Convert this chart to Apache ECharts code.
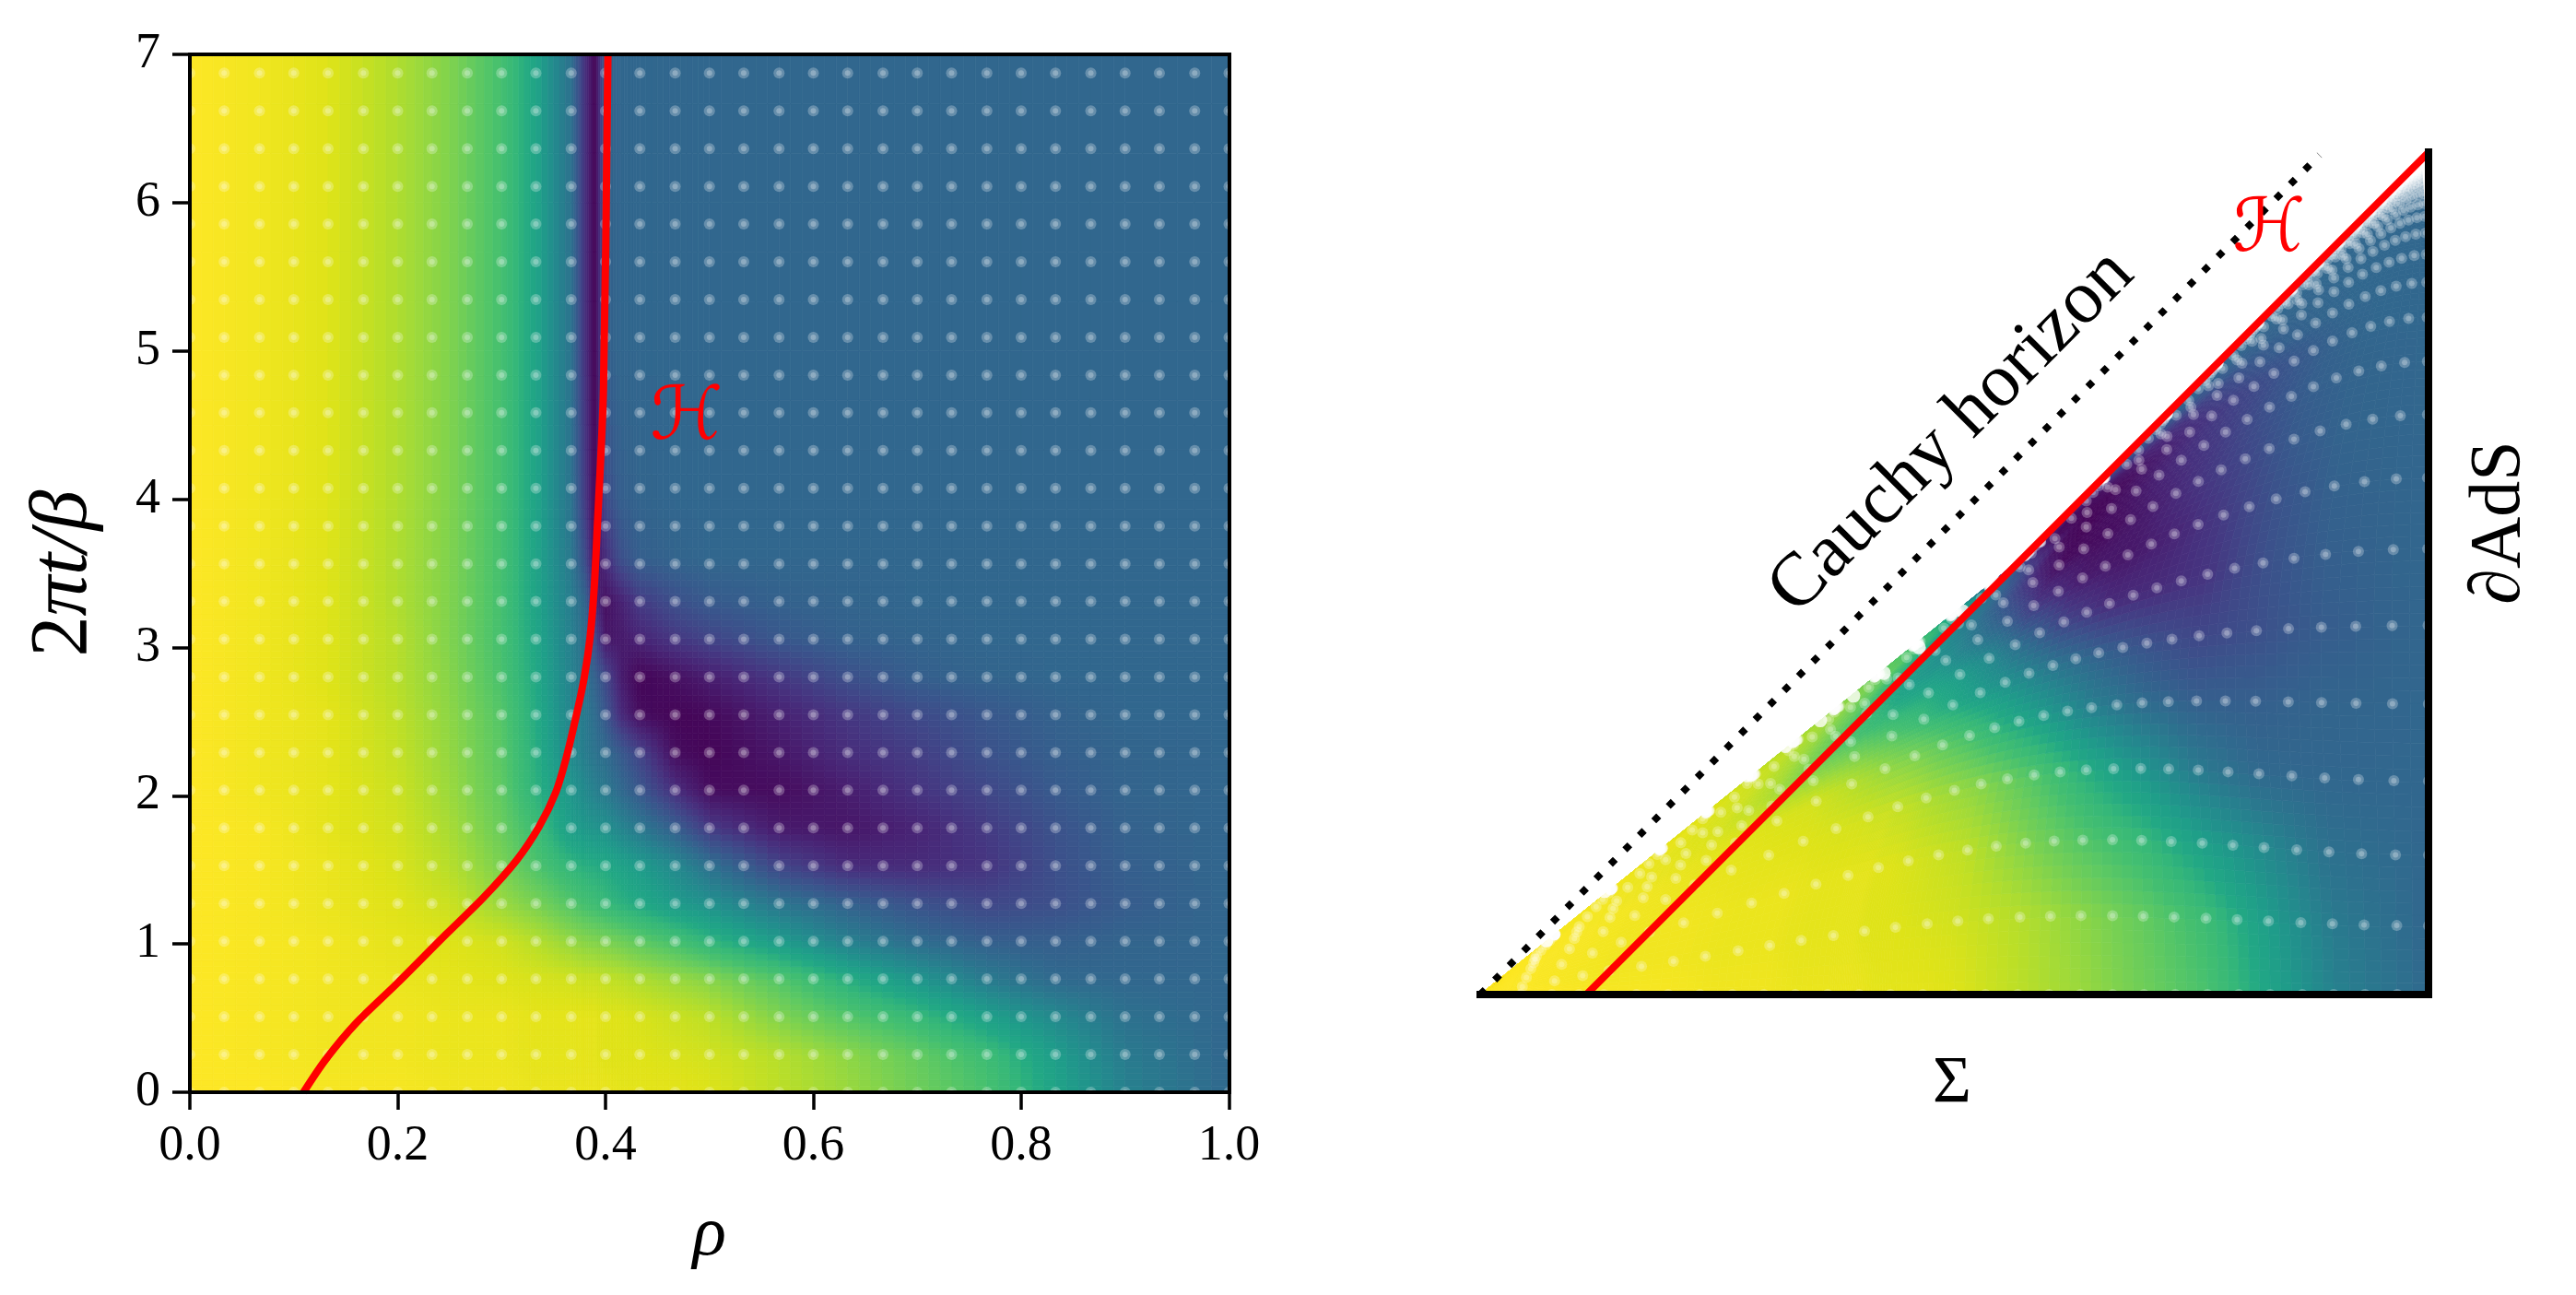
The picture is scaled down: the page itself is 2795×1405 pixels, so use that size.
<!DOCTYPE html>
<html><head><meta charset="utf-8">
<style>html,body{margin:0;padding:0;background:#fff}#c{width:2795px;height:1405px}</style>
<script src="https://cdn.jsdelivr.net/npm/echarts@6/dist/echarts.min.js"></script>
</head><body><div id="c"></div>
<script>
// ---- values ----
const fieldRho=[0,.067,.133,.2,.25,.3,.333,.367,.38,.39,.4,.415,.433,.467,.5,.567,.633,.7,.767,.833,.9,1];
const fieldT=[0,.25,.51,.76,1.02,1.27,1.53,1.78,2.04,2.29,2.55,2.8,3.06,3.31,3.6,4,5,7];
const field00=[100,100,99,99,98,98,97,97,97,97,97,96,96,96,95,90,85,78,71,58,44,34];
const field01=[100,99,98,98,97,97,96,96,96,96,95,95,95,94,93,89,83,76,68,55,41,33];
const field02=[100,99,98,98,97,97,96,96,96,96,95,95,94,92,90,81,73,66,56,47,37,33];
const field03=[100,99,98,97,96,95,94,93,92,92,91,90,88,85,82,73,62,52,41,34,33,33];
const field04=[100,99,98,96,95,93,89,84,82,81,80,78,75,70,64,54,43,35,30,30,32,33];
const field05=[100,99,97,95,92,85,80,73,70,68,66,63,60,54,50,39,31,25,21,24,29,33];
const field06=[100,99,97,94,89,80,72,64,62,61,60,57,54,47,37,20,12,12,15,24,30,33];
const field07=[100,99,96,93,87,77,68,55,53,51,50,45,40,30,17,7,6,10,17,25,31,33];
const field08=[100,98,96,92,85,75,63,52,47,43,40,34,27,13,3,3,8,15,21,28,32,33];
const field09=[100,98,96,91,84,74,62,47,42,38,35,28,20,3,1,6,13,18,25,30,32,33];
const field10=[100,98,96,90,83,73,61,45,41,35,27,12,3,1,2,9,16,22,27,31,33,33];
const field11=[100,98,95,89,82,71,60,44,38,31,22,8,1,4,8,16,24,30,32,33,33,33];
const field12=[100,98,95,89,81,70,59,43,36,22,6,7,10,16,20,27,31,32,33,33,33,33];
const field13=[100,98,95,88,81,70,58,42,33,12,4,9,17,24,28,31,32,33,33,33,33,33];
const field14=[100,98,95,88,81,70,58,40,24,3,12,24,30,32,33,33,33,33,33,33,33,33];
const field15=[100,98,95,88,81,70,58,38,18,1,22,30,32,33,33,33,33,33,33,33,33,33];
const field16=[100,98,95,88,81,70,58,38,15,0,30,33,33,33,33,33,33,33,33,33,33,33];
const field17=[100,98,95,88,81,70,58,37,15,0,32,33,33,33,33,33,33,33,33,33,33,33];
const fieldRows=[field00,field01,field02,field03,field04,field05,field06,field07,field08,field09,field10,field11,field12,field13,field14,field15,field16,field17];
const dotRho=[0,.033,.067,.1,.133,.167,.2,.233,.267,.3,.333,.367,.4,.433,.467,.5,.533,.567,.6,.633,.667,.7,.733,.767,.8,.833,.867,.9,.933,.967,1];
const dotT=[0,.255,.509,.764,1.018,1.273,1.528,1.782,2.037,2.291,2.546,2.8,3.055,3.31,3.564,3.819,4.073,4.328,4.583,4.837,5.092,5.346,5.601,5.856,6.11,6.365,6.619,6.874];
const horizonRho=[.1094,.1304,.16,.1996,.247,.283,.3145,.336,.352,.362,.3725,.3796,.385,.389,.392,.398,.4023];
const horizonT=[0,.2176,.466,.735,1.068,1.316,1.565,1.79,2.02,2.25,2.56,2.8,3.06,3.39,3.8,4.74,7];
// position on the right-hand diagram where the horizon sits at time t (null coordinate)
const horizonMapT=[0,.25,.5,.76,1.02,1.27,1.53,2,2.5,3,4,7];
const horizonMapV=[.112,.161,.24,.345,.44,.52,.60,.80,.95,1.02,1.035,1.04];
const horizonLineX=[.112,1];
const horizonLineY=[0,.888];
const cauchyX=[0,.885];
const cauchyY=[0,.885];
const notchX=[.509,.4626,.4257,.3936,.3586,.3217,.2809,.2371,.1876,.1312,.07];
const notchY=[.404,.366,.339,.315,.289,.262,.231,.196,.156,.109,.057];
const xTickLabels=['0.0','0.2','0.4','0.6','0.8','1.0'];
const yTickLabels=['0','1','2','3','4','5','6','7'];
const viridis=['#440154','#471365','#482475','#463480','#414487','#3b528b','#355f8d','#2f6c8e','#2a788e','#25858e','#21918c','#1f9e89','#22a884','#35b779','#44bf70','#5ec962','#7ad151','#9bd93c','#bddf26','#dfe318','#fde725'];
const rgb=viridis.map(h=>[1,3,5].map(i=>parseInt(h.substr(i,2),16)));
function col(v){const p=Math.max(0,Math.min(1,v/100))*20,i=Math.min(19,Math.floor(p)),f=p-i;
  const a=rgb[i],b=rgb[i+1];return 'rgb('+[0,1,2].map(k=>Math.round(a[k]+(b[k]-a[k])*f)).join(',')+')';}
function lerp(xs,ys,x){if(x<=xs[0])return ys[0];for(let i=1;i<xs.length;i++)if(x<=xs[i])return ys[i-1]+(ys[i]-ys[i-1])*(x-xs[i-1])/(xs[i]-xs[i-1]);return ys[ys.length-1];}
// conformal diagram of the (rho,t) chart
const WM=.888,LAM=.15;
const W=t=>WM*(2/Math.PI)*Math.atan(.5*Math.sinh(t));
const sOf=r=>Math.asinh(2*Math.tan(Math.PI/2*(1-r)/WM));
function toDiagram(r,t){
  const h=lerp(horizonT,horizonRho,t),Vh=lerp(horizonMapT,horizonMapV,t);let U,V;
  if(r>=h){
    const s=sOf(Math.max(r,.115)),sh=sOf(Math.max(h,.115)),e=Math.exp(-(r-h)/LAM);
    U=1-W(t+s)+(.112-(1-W(t+sh)))*e;
    V=1+W(t-s)+(Vh-(1+W(t-sh)))*e;
  }else{const f=Math.pow(r/h,.8);U=.112*f;V=Vh*f;}
  return [(U+V)/2,(V-U)/2];
}
const cells=[];
for(let j=0;j<fieldT.length-1;j++)for(let i=0;i<fieldRho.length-1;i++)cells.push([i,j]);
const SUB=6;
function cellRender(warp){return function(params,api){
  const i=api.value(0),j=api.value(1),children=[];
  const r0=fieldRho[i],r1=fieldRho[i+1],t0=fieldT[j],t1=fieldT[j+1];
  const a=fieldRows[j][i],b=fieldRows[j][i+1],c=fieldRows[j+1][i],d=fieldRows[j+1][i+1];
  const P=(u,w)=>{const r=r0+(r1-r0)*u,t=t0+(t1-t0)*w;return api.coord(warp?toDiagram(r,t):[r,t]);};
  for(let m=0;m<SUB;m++)for(let n=0;n<SUB;n++){
    const u=(m+.5)/SUB,w=(n+.5)/SUB,v=(a*(1-u)+b*u)*(1-w)+(c*(1-u)+d*u)*w,f=col(v);
    const pts=[P(m/SUB,n/SUB),P((m+1)/SUB,n/SUB),P((m+1)/SUB,(n+1)/SUB),P(m/SUB,(n+1)/SUB)];
    children.push({type:'polygon',shape:{points:pts},style:{fill:f,stroke:f,lineWidth:.7},silent:true});
  }
  return {type:'group',children};
};}
const leftDots=[],rightDots=[];
dotT.forEach(t=>dotRho.forEach(r=>{leftDots.push([r,t]);rightDots.push(toDiagram(r,t));}));
const notches=notchX.map((x,i)=>[x,notchY[i]]);
const F='"Liberation Serif",serif';
const dot=(name,x,y,data,size,op)=>({name,type:'scatter',xAxisIndex:x,yAxisIndex:y,data,symbolSize:size,silent:true,z:3,clip:true,large:false,
  itemStyle:{color:'rgba(255,255,255,'+op+')',borderWidth:0},animation:false});
const chart=echarts.init(document.getElementById('c'),null,{renderer:'canvas'});
const tick={show:true,length:19,inside:false,lineStyle:{color:'#000',width:3.5}};
const line={show:true,onZero:false,lineStyle:{color:'#000',width:4,cap:'square'}};
const off={show:false};
chart.setOption({
  animation:false,backgroundColor:'#fff',
  grid:[{left:206,top:59,width:1127.5,height:1126},{left:1606,top:165,width:1029,height:914}],
  xAxis:[
    {gridIndex:0,type:'value',min:0,max:1,interval:.2,z:10,position:'bottom',axisLine:line,axisTick:tick,splitLine:off,
     axisLabel:{margin:32,fontFamily:F,fontSize:54,color:'#000',formatter:(v,i)=>xTickLabels[i]},
     name:'ρ',nameLocation:'middle',nameGap:118,nameTextStyle:{fontFamily:F,fontStyle:'italic',fontSize:76,color:'#000'}},
    {gridIndex:0,type:'value',min:0,max:1,z:10,position:'top',axisLine:line,axisTick:off,axisLabel:off,splitLine:off},
    {gridIndex:1,type:'value',min:0,max:1,z:10,position:'bottom',axisLine:{show:true,onZero:false,lineStyle:{color:'#000',width:8,cap:'square'}},axisTick:off,axisLabel:off,splitLine:off}
  ],
  yAxis:[
    {gridIndex:0,type:'value',min:0,max:7,interval:1,z:10,position:'left',axisLine:line,axisTick:tick,splitLine:off,
     axisLabel:{margin:32,fontFamily:F,fontSize:54,color:'#000',formatter:(v,i)=>yTickLabels[i]},
     name:'{a|2}{b|πt/β}',nameLocation:'middle',nameGap:92,nameTextStyle:{rich:{a:{fontFamily:F,fontSize:88,color:'#000'},b:{fontFamily:F,fontStyle:'italic',fontSize:88,color:'#000'}}}},
    {gridIndex:0,type:'value',min:0,max:7,z:10,position:'right',axisLine:line,axisTick:off,axisLabel:off,splitLine:off},
    {gridIndex:1,type:'value',min:0,max:.8882,z:10,position:'right',axisLine:{show:true,onZero:false,lineStyle:{color:'#000',width:8,cap:'square'}},axisTick:off,axisLabel:off,splitLine:off}
  ],
  series:[
    {name:'field',type:'custom',xAxisIndex:0,yAxisIndex:0,data:cells,renderItem:cellRender(false),silent:true,progressive:0,clip:true,z:1,encode:{x:0,y:1}},
    {name:'field diagram',type:'custom',xAxisIndex:2,yAxisIndex:2,data:cells,renderItem:cellRender(true),silent:true,progressive:0,clip:true,z:1,encode:{x:0,y:1}},
    dot('dots',0,0,leftDots,12,.32),dot('dots core',0,0,leftDots,6,.32),
    dot('diagram dots',2,2,rightDots,12,.32),dot('diagram dots core',2,2,rightDots,6,.32),
    dot('edge notches',2,2,notches,15,1),
    {name:'horizon',type:'line',xAxisIndex:0,yAxisIndex:0,data:horizonRho.map((r,i)=>[r,horizonT[i]]),smooth:.3,showSymbol:false,symbol:'none',silent:true,z:5,clip:true,lineStyle:{color:'#ff0000',width:8}},
    {name:'horizon diagram',type:'line',xAxisIndex:2,yAxisIndex:2,data:horizonLineX.map((x,i)=>[x,horizonLineY[i]]),showSymbol:false,symbol:'none',silent:true,z:5,clip:false,lineStyle:{color:'#ff0000',width:8}},
    {name:'Cauchy horizon',type:'line',xAxisIndex:2,yAxisIndex:2,data:cauchyX.map((x,i)=>[x,cauchyY[i]]),showSymbol:false,symbol:'none',silent:true,z:4,clip:false,lineStyle:{color:'#000',width:7.6,type:[7.6,14.6],cap:'butt'}}
  ],
  graphic:[
    {type:'text',x:745,y:455,z:20,silent:true,style:{text:'ℋ',font:'80px "DejaVu Sans",sans-serif',fill:'#ff0000',textAlign:'center',textVerticalAlign:'middle'}},
    {type:'text',x:2462,y:251,z:20,silent:true,style:{text:'ℋ',font:'80px "DejaVu Sans",sans-serif',fill:'#ff0000',textAlign:'center',textVerticalAlign:'middle'}},
    {type:'text',x:2118,y:469,rotation:Math.PI/4,z:20,silent:true,style:{text:'Cauchy horizon',font:'82px '+F,fill:'#000',textAlign:'center',textVerticalAlign:'middle'}},
    {type:'text',x:2118,y:1176,z:20,silent:true,style:{text:'Σ',font:'72px '+F,fill:'#000',textAlign:'center',textVerticalAlign:'middle'}},
    {type:'text',x:2713,y:567,rotation:Math.PI/2,z:20,silent:true,style:{text:'∂AdS',font:'78px '+F,fill:'#000',textAlign:'center',textVerticalAlign:'middle'}}
  ]
});
</script></body></html>
